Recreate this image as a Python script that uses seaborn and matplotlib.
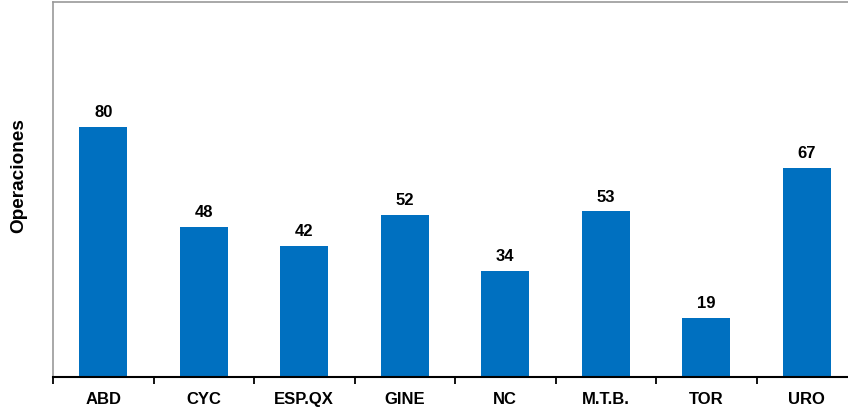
import matplotlib
matplotlib.use("Agg")
import matplotlib.pyplot as plt
import seaborn as sns
import pandas as pd
import numpy as np

categories = ["ABD", "CYC", "ESP.QX", "GINE", "NC", "M.T.B.", "TOR", "URO"]
values = [80, 48, 42, 52, 34, 53, 19, 67]

df = pd.DataFrame({"cat": categories, "val": values})

sns.set_theme(style="white")
plt.rcParams['font.family'] = ['Liberation Sans', 'DejaVu Sans']

W, H = 848, 410
fig = plt.figure(figsize=(W / 100, H / 100), dpi=100)
left, right, top, bottom = 53, 857, 3, 378
ax = fig.add_axes([left / W, 1 - bottom / H, (right - left) / W, (bottom - top) / H])

sns.barplot(data=df, x="cat", y="val", color="#0070C0", width=0.48, ax=ax,
            saturation=1, edgecolor="none")

ax.set_ylim(0, 120)
ax.set_xlim(-0.5, len(categories) - 0.5)

for i, v in enumerate(values):
    ax.annotate(str(v), (i, v), xytext=(0, 5.5), textcoords="offset points",
                ha="center", va="bottom", fontsize=12, fontweight="bold", color="black")

ax.set_yticks([])
ax.set_xlabel("")
ax.set_ylabel("Operaciones", fontsize=13.7, fontweight="bold", color="black")
ax.yaxis.set_label_coords(-0.0325, 0.539)

ax.set_xticks(range(len(categories)))
ax.set_xticklabels(categories, fontsize=12, fontweight="bold", color="black")
ax.tick_params(axis="x", which="major", length=0, pad=10)
ax.set_xticks(np.arange(-0.5, len(categories), 1), minor=True)
ax.tick_params(axis="x", which="minor", length=5, width=1.3, color="black", direction="out", bottom=True)

for s in ["left", "top", "right"]:
    ax.spines[s].set_color("#999999")
    ax.spines[s].set_linewidth(1.2)
ax.spines["bottom"].set_color("black")
ax.spines["bottom"].set_linewidth(1.5)

fig.savefig("out.png", dpi=100)
